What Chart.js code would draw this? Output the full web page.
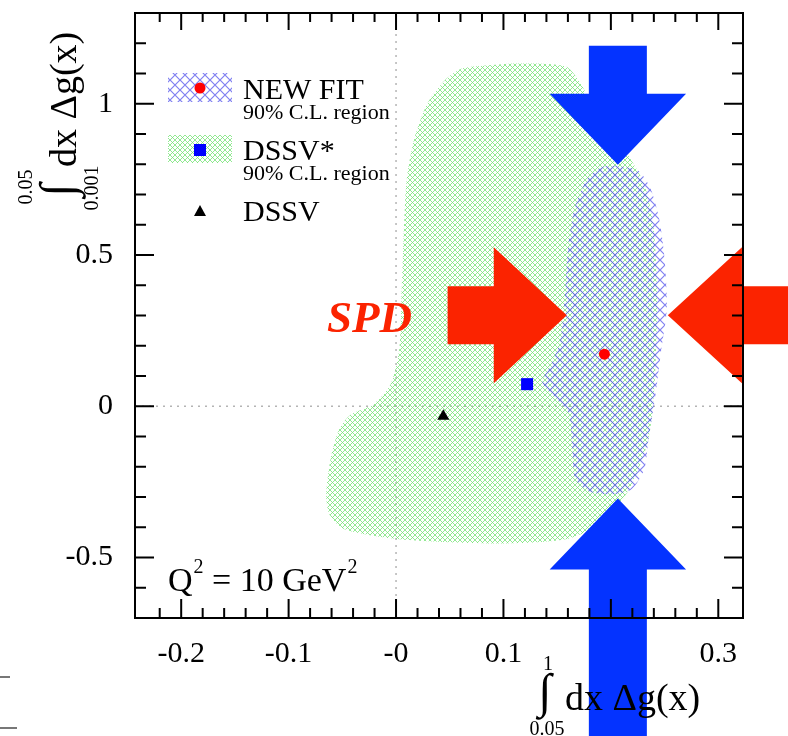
<!DOCTYPE html>
<html><head><meta charset="utf-8">
<script src="https://cdn.jsdelivr.net/npm/chart.js@4.4.0/dist/chart.umd.min.js"></script>
<style>html,body{margin:0;padding:0;background:#fff;}#wrap{width:788px;height:736px;}</style>
</head><body><div id="wrap"><canvas id="c" width="788" height="736"></canvas></div>
<script>
// ---------- data ----------
const xTickValues = [-0.2, -0.1, 0, 0.1, 0.2, 0.3];
const xTickLabels = ['-0.2', '-0.1', '-0', '0.1', '0.2', '0.3'];
const yTickValues = [-0.5, 0, 0.5, 1];
const yTickLabels = ['-0.5', '0', '0.5', '1'];

const seriesNames = ['NEW FIT', 'DSSV*', 'DSSV'];
const newFitX = [0.194];  const newFitY = [0.172];
const dssvStarX = [0.122]; const dssvStarY = [0.073];
const dssvX = [0.044];    const dssvY = [-0.033];

// 90% C.L. regions (boundary points)
const newFitRegionX = [0.207,0.226,0.237,0.245,0.250,0.252,0.247,0.241,0.235,0.231,0.219,0.200,0.180,0.167,0.164,0.161,0.150,0.136,0.142,0.152,0.157,0.160,0.166,0.178,0.192];
const newFitRegionY = [0.795,0.778,0.719,0.619,0.487,0.321,0.189,0.023,-0.109,-0.209,-0.275,-0.291,-0.282,-0.242,-0.142,-0.027,0.023,0.080,0.123,0.205,0.354,0.520,0.652,0.752,0.791];
const dssvStarRegionX = [0.071,0.114,0.158,0.172,0.189,0.212,0.231,0.240,0.243,0.241,0.235,0.217,0.189,0.158,0.096,0.003,-0.048,-0.062,-0.065,-0.061,-0.053,-0.042,-0.021,-0.005,0.003,0.005,0.007,0.010,0.017,0.029,0.045,0.059];
const dssvStarRegionY = [1.123,1.133,1.123,1.066,0.950,0.851,0.735,0.586,0.354,0.089,-0.109,-0.275,-0.391,-0.440,-0.454,-0.440,-0.407,-0.358,-0.291,-0.176,-0.076,-0.027,0.007,0.073,0.189,0.354,0.553,0.752,0.884,1.000,1.076,1.113];

// SPD projection arrows (vertices, data units)
const arrowDownX = [0.1795,0.2335,0.2335,0.270,0.2065,0.143,0.1795];
const arrowDownY = [1.192,1.192,1.033,1.033,0.798,1.033,1.033];
const arrowUpX   = [0.1795,0.2335,0.2335,0.270,0.2065,0.143,0.1795];
const arrowUpY   = [-1.10,-1.10,-0.540,-0.540,-0.305,-0.540,-0.540];
const arrowRightX = [0.048,0.091,0.091,0.159,0.091,0.091,0.048];
const arrowRightY = [0.397,0.397,0.526,0.301,0.076,0.205,0.205];
const arrowLeftX  = [0.37,0.322,0.322,0.253,0.322,0.322,0.37];
const arrowLeftY  = [0.397,0.397,0.526,0.301,0.076,0.205,0.205];

// ---------- helpers ----------
const SERIF = '"Liberation Serif", "Times New Roman", serif';
const cv = document.getElementById('c');
const mainCtx = cv.getContext('2d');
function hatch(size, color, lw) {
  const c = document.createElement('canvas');
  c.width = c.height = size;
  const g = c.getContext('2d');
  g.strokeStyle = color; g.lineWidth = lw;
  g.beginPath();
  g.moveTo(-1, -1); g.lineTo(size + 1, size + 1);
  g.moveTo(-1, size + 1); g.lineTo(size + 1, -1);
  g.stroke();
  return mainCtx.createPattern(c, 'repeat');
}
const greenHatch = hatch(5, 'rgba(120,228,120,0.8)', 1);
const blueHatch = hatch(10, 'rgba(85,85,235,0.75)', 1.2);

function pts(xs, ys) { return xs.map((x, i) => ({x, y: ys[i]})); }
function closed(xs, ys) { const p = pts(xs, ys); p.push({...p[0]}); return p; }
function near(v, arr) { return arr.findIndex(t => Math.abs(t - v) < 1e-6); }

function text(ctx, s, x, y, size, opts = {}) {
  ctx.font = (opts.style || '') + ' ' + size + 'px ' + SERIF;
  ctx.fillStyle = opts.color || '#000';
  ctx.textAlign = opts.align || 'left';
  ctx.textBaseline = 'alphabetic';
  ctx.fillText(s, x, y);
  return ctx.measureText(s).width;
}
function integralTitle(ctx, up, low, intX, dxX, base, upOff, lowOff) {
  text(ctx, '\u222B', intX, base - 3, 48, {align: 'center'});
  text(ctx, up, intX + 3, base + upOff, 20, {align: 'center'});
  text(ctx, low, intX + 2, base + lowOff, 20, {align: 'center'});
  text(ctx, 'dx \u0394g(x)', dxX, base, 38);
}

const deco = {
  id: 'deco',
  beforeDatasetsDraw(chart) {
    const {ctx, chartArea: a, scales: {x, y}} = chart;
    ctx.save();
    ctx.strokeStyle = '#b4b4b4'; ctx.lineWidth = 1.5; ctx.setLineDash([2, 5]);
    ctx.beginPath();
    ctx.moveTo(x.getPixelForValue(0), a.top); ctx.lineTo(x.getPixelForValue(0), a.bottom);
    ctx.moveTo(a.left, y.getPixelForValue(0)); ctx.lineTo(a.right, y.getPixelForValue(0));
    ctx.stroke();
    ctx.restore();
  },
  afterDatasetsDraw(chart) {
    const {ctx, scales: {x, y}} = chart;
    ctx.save();
    const poly = (xs, ys, col) => {
      ctx.beginPath();
      xs.forEach((v, i) => {
        const px = x.getPixelForValue(v), py = y.getPixelForValue(ys[i]);
        i ? ctx.lineTo(px, py) : ctx.moveTo(px, py);
      });
      ctx.closePath(); ctx.fillStyle = col; ctx.fill();
    };
    poly(arrowDownX, arrowDownY, '#0433ff');
    poly(arrowUpX, arrowUpY, '#0433ff');
    poly(arrowRightX, arrowRightY, '#fb2300');
    poly(arrowLeftX, arrowLeftY, '#fb2300');
    ctx.restore();
  },
  afterDraw(chart) {
    const {ctx, chartArea: a, scales: {x, y}} = chart;
    ctx.save();
    // ticks inside the frame
    ctx.strokeStyle = '#000'; ctx.lineWidth = 2;
    ctx.beginPath();
    x.ticks.forEach(t => {
      const k = t.value / 0.02;
      if (Math.abs(k - Math.round(k)) > 1e-4) return;
      const major = near(t.value, xTickValues) >= 0;
      const len = major ? 19 : 10;
      const px = x.getPixelForValue(t.value);
      ctx.moveTo(px, a.bottom); ctx.lineTo(px, a.bottom - len);
      ctx.moveTo(px, a.top); ctx.lineTo(px, a.top + (major ? 17 : 9));
    });
    y.ticks.forEach(t => {
      const major = near(t.value, yTickValues) >= 0;
      const len = major ? 19 : 11;
      const py = y.getPixelForValue(t.value);
      if (py < a.top + 2 || py > a.bottom - 2) return;
      ctx.moveTo(a.left, py); ctx.lineTo(a.left + len, py);
      ctx.moveTo(a.right, py); ctx.lineTo(a.right - len, py);
    });
    ctx.stroke();
    ctx.strokeRect(a.left, a.top, a.right - a.left, a.bottom - a.top);

    // legend
    ctx.fillStyle = blueHatch; ctx.fillRect(168, 73, 64, 29);
    ctx.fillStyle = greenHatch; ctx.fillRect(168, 135, 64, 28);
    ctx.fillStyle = '#ff0000'; ctx.beginPath(); ctx.arc(200, 88, 5.5, 0, Math.PI * 2); ctx.fill();
    ctx.fillStyle = '#0000ff'; ctx.fillRect(194, 144, 12, 12);
    ctx.fillStyle = '#000'; ctx.beginPath(); ctx.moveTo(200, 205); ctx.lineTo(206, 216); ctx.lineTo(194, 216); ctx.closePath(); ctx.fill();
    text(ctx, seriesNames[0], 243, 99, 30);
    text(ctx, '90% C.L. region', 243, 119, 22);
    text(ctx, seriesNames[1], 243, 160, 30);
    text(ctx, '90% C.L. region', 243, 180, 22);
    text(ctx, seriesNames[2], 243, 221, 30);

    // SPD label
    text(ctx, 'SPD', 327, 332, 45, {style: 'italic bold', color: '#fb2300'});

    // Q^2 label
    let cx = 168;
    cx += text(ctx, 'Q', cx, 591, 34);
    cx += text(ctx, '2', cx + 1, 573, 20) + 1;
    cx += text(ctx, ' = 10 GeV', cx, 591, 34);
    text(ctx, '2', cx + 1, 573, 20);

    // axis titles
    integralTitle(ctx, '1', '0.05', 545, 565, 710, -40, 25);
    ctx.save();
    ctx.translate(76, 400);
    ctx.rotate(-Math.PI / 2);
    integralTitle(ctx, '0.05', '0.001', 210, 233, 0, -44, 22);
    ctx.restore();

    // small marks at the lower left edge
    ctx.strokeStyle = '#777'; ctx.lineWidth = 2;
    ctx.beginPath(); ctx.moveTo(0, 677); ctx.lineTo(10, 677); ctx.moveTo(0, 728); ctx.lineTo(17, 728); ctx.stroke();
    ctx.restore();
  }
};

new Chart(cv, {
  type: 'scatter',
  data: {
    datasets: [
      {label: seriesNames[0], data: pts(newFitX, newFitY), pointStyle: 'circle', pointRadius: 5.5, backgroundColor: '#ff0000', borderWidth: 0},
      {label: seriesNames[1], data: pts(dssvStarX, dssvStarY), pointStyle: 'rect', pointRadius: 8.5, backgroundColor: '#0000ff', borderWidth: 0},
      {label: seriesNames[2], data: pts(dssvX, dssvY), pointStyle: 'triangle', pointRadius: 7, backgroundColor: '#000', borderWidth: 0},
      {label: 'NEW FIT region', data: closed(newFitRegionX, newFitRegionY), showLine: true, fill: 'shape', tension: 0.25, pointRadius: 0, borderWidth: 0, borderColor: 'rgba(0,0,0,0)', backgroundColor: blueHatch},
      {label: 'DSSV* region', data: closed(dssvStarRegionX, dssvStarRegionY), showLine: true, fill: 'shape', tension: 0.25, pointRadius: 0, borderWidth: 0, borderColor: 'rgba(0,0,0,0)', backgroundColor: greenHatch}
    ]
  },
  options: {
    responsive: false, animation: false, events: [],
    layout: {padding: {top: 13, right: 45, left: 0, bottom: 0}},
    plugins: {legend: {display: false}, tooltip: {enabled: false}},
    scales: {
      x: {
        type: 'linear', min: -0.243, max: 0.323,
        afterFit(s) { s.height = 118; s.paddingLeft = 0; s.paddingRight = 0; },
        grid: {display: false, drawTicks: false}, border: {display: false},
        ticks: {stepSize: 0.02, autoSkip: false, maxRotation: 0, minRotation: 0, padding: 18, color: '#000',
          font: {family: SERIF, size: 30},
          callback: v => { const i = near(v, xTickValues); return i >= 0 ? xTickLabels[i] : ''; }}
      },
      y: {
        type: 'linear', min: -0.7, max: 1.3,
        afterFit(s) { s.width = 135; s.paddingTop = 0; s.paddingBottom = 0; },
        grid: {display: false, drawTicks: false}, border: {display: false},
        ticks: {stepSize: 0.1, autoSkip: false, padding: 22, color: '#000',
          font: {family: SERIF, size: 30},
          callback: v => { const i = near(v, yTickValues); return i >= 0 ? yTickLabels[i] : ''; }}
      }
    }
  },
  plugins: [deco]
});
</script></body></html>
